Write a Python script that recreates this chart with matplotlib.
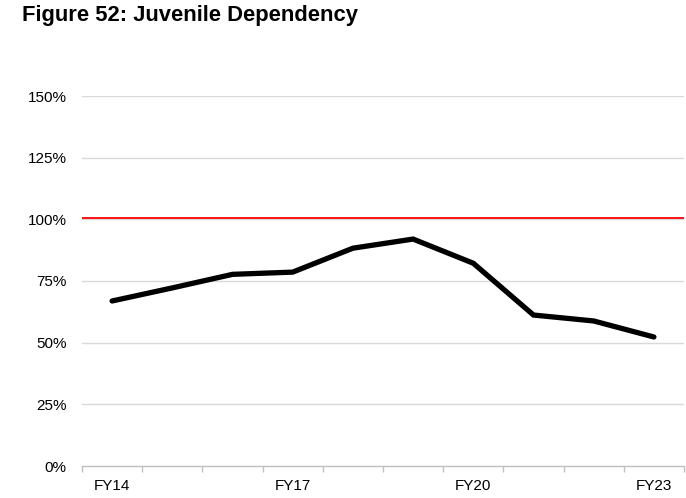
import matplotlib
matplotlib.use("Agg")
import matplotlib.pyplot as plt
from matplotlib.ticker import FixedLocator, FuncFormatter

plt.rcParams['font.family'] = ['Liberation Sans', 'DejaVu Sans']

categories = ["FY14", "FY15", "FY16", "FY17", "FY18", "FY19", "FY20", "FY21", "FY22", "FY23"]
dependency = [66.9, 72.2, 77.7, 78.6, 88.3, 92.0, 82.2, 61.2, 58.8, 52.3]
reference_level = 100.7
shown_labels = ["FY14", "FY17", "FY20", "FY23"]
y_ticks = [0, 25, 50, 75, 100, 125, 150]

fig = plt.figure(figsize=(6.86, 4.98), dpi=100)
ax = fig.add_axes([82/686, 1 - 466/498, (684-82)/686, (466-96)/498])

x = list(range(len(categories)))
ax.set_xlim(-0.5, len(categories) - 0.5)
ax.set_ylim(0, 150)

for t in y_ticks[1:]:
    ax.axhline(t, color="#d9d9d9", lw=1.0, zorder=1)
ax.axhline(reference_level, color="#ff0000", lw=1.3, zorder=3)
ax.plot(x, dependency, color="black", lw=3.8, solid_joinstyle="miter", solid_capstyle="round", zorder=4)

ax.set_yticks(y_ticks)
ax.yaxis.set_major_formatter(FuncFormatter(lambda v, p: f"{int(v)}%"))
ax.tick_params(axis="y", length=0, pad=11, labelsize=11, colors="black")

label_pos = [categories.index(c) for c in shown_labels]
ax.set_xticks(label_pos)
ax.set_xticklabels(shown_labels)
ax.xaxis.set_minor_locator(FixedLocator([i - 0.5 for i in range(len(categories) + 1)]))
ax.tick_params(axis="x", which="major", length=0, pad=9, labelsize=11, colors="black")
ax.tick_params(axis="x", which="minor", length=4, color="#bfbfbf", width=1.0)

for s in ["top", "right", "left"]:
    ax.spines[s].set_visible(False)
ax.spines["bottom"].set_color("#bfbfbf")
ax.spines["bottom"].set_linewidth(1.0)
ax.spines["bottom"].set_zorder(5)

fig.text(22/686, 1 - 21/498, "Figure 52: Juvenile Dependency", fontsize=15.8, fontweight="bold",
         ha="left", va="baseline", color="black")

fig.savefig("out.png", dpi=100)
